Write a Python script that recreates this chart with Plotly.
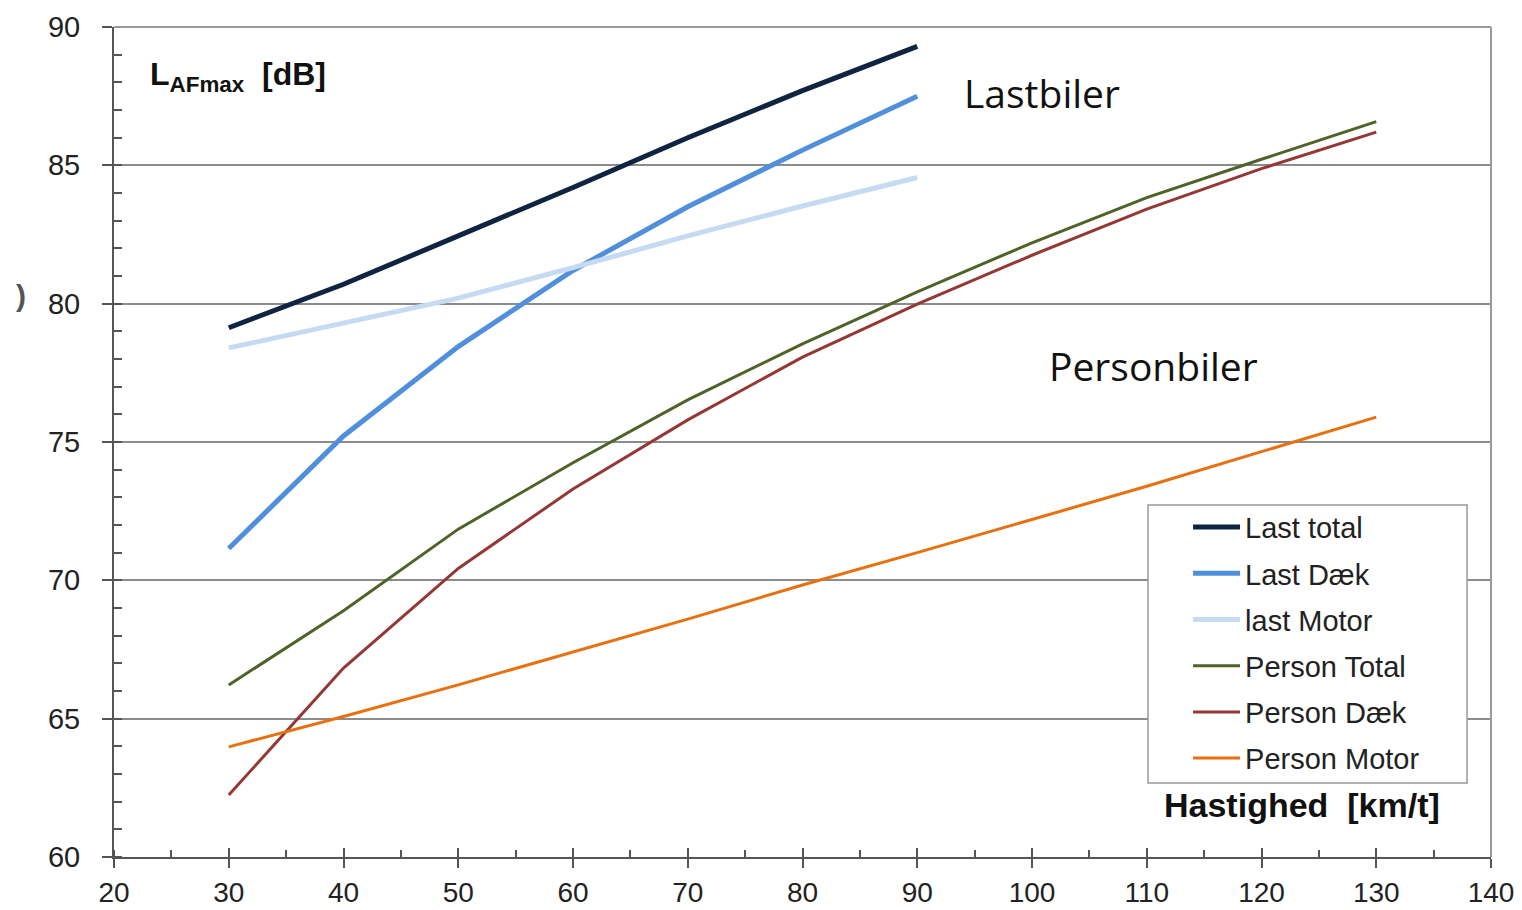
import plotly.graph_objects as go

speed_last = [30, 40, 50, 60, 70, 80, 90]
speed_person = [30, 40, 50, 60, 70, 80, 90, 100, 110, 120, 130]

last_total = [79.13, 80.7, 82.45, 84.2, 86.0, 87.7, 89.3]
last_daek = [71.15, 75.22, 78.45, 81.2, 83.5, 85.55, 87.5]
last_motor = [78.4, 79.3, 80.2, 81.3, 82.45, 83.53, 84.56]

person_total = [66.22, 68.9, 71.85, 74.25, 76.52, 78.55, 80.43, 82.2, 83.83, 85.22, 86.58]
person_daek = [62.24, 66.83, 70.43, 73.3, 75.8, 78.07, 79.98, 81.75, 83.42, 84.88, 86.2]
person_motor = [63.98, 65.08, 66.22, 67.4, 68.6, 69.83, 71.0, 72.2, 73.4, 74.65, 75.9]

series = [
    ("Last total", speed_last, last_total, "#0f2441", 5),
    ("Last Dæk", speed_last, last_daek, "#4f8fdb", 5),
    ("last Motor", speed_last, last_motor, "#c6daf2", 5),
    ("Person Total", speed_person, person_total, "#4f6228", 3),
    ("Person Dæk", speed_person, person_daek, "#953735", 3),
    ("Person Motor", speed_person, person_motor, "#e9700f", 3),
]

fig = go.Figure()
for i, (name, xs, ys, color, w) in enumerate(series):
    fig.add_trace(go.Scatter(x=xs, y=ys, mode="lines", name=name,
                             line=dict(color=color, width=w),
                             legendgroup=f"g{i}"))

# overlay axis to get the inside part of the major x ticks (cross-style ticks)
fig.add_trace(go.Scatter(x=[20, 140], y=[60, 60], mode="lines", xaxis="x2",
                         line=dict(width=0), showlegend=False, hoverinfo="skip"))

fig.update_layout(
    width=1514, height=902,
    margin=dict(l=106, r=31, t=19, b=53, autoexpand=False),
    paper_bgcolor="white", plot_bgcolor="white",
    font=dict(family="Liberation Sans, Arial, sans-serif", size=29, color="#222"),
    xaxis=dict(range=[20, 140], dtick=10, tick0=20, showgrid=False, automargin=False,
               showline=True, linecolor="#555", linewidth=2,
               ticks="outside", ticklen=9, tickwidth=1.5, tickcolor="#555",
               minor=dict(dtick=5, ticks="inside", ticklen=7, tickwidth=1.5, tickcolor="#555"),
               tickfont=dict(size=28, color="#222"), zeroline=False,
               ticklabelstandoff=0),
    xaxis2=dict(range=[20, 140], dtick=10, tick0=20, overlaying="x", side="bottom",
                automargin=False,
                showgrid=False, showline=False, ticks="inside", ticklen=9, tickwidth=1.5,
                tickcolor="#555", showticklabels=False, zeroline=False),
    yaxis=dict(range=[60, 90], dtick=5, tick0=60, showgrid=True, gridcolor="#8c8c8c",
               automargin=False,
               gridwidth=1.5, showline=True, linecolor="#555", linewidth=2,
               ticks="outside", ticklen=10, tickwidth=1.5, tickcolor="#555",
               minor=dict(dtick=1, ticks="inside", ticklen=8, tickwidth=1.5, tickcolor="#555",
                          showgrid=False),
               tickfont=dict(size=29, color="#222"), zeroline=False,
               ticklabelstandoff=16),
    legend=dict(x=0.780, y=0.428, xanchor="left", yanchor="top",
                bgcolor="rgba(0,0,0,0)", borderwidth=0,
                font=dict(size=29, color="#222"), tracegroupgap=5.5,
                itemwidth=47),
    showlegend=True,
)

# legend frame (opaque white box)
fig.add_shape(type="rect", xref="paper", yref="paper", x0=0.7509, x1=0.9826,
              y0=0.0892, y1=0.4241, line=dict(color="#999", width=1.5),
              fillcolor="white", layer="above")

# top and right frame lines
fig.add_shape(type="line", xref="paper", yref="paper", x0=1, x1=1, y0=0, y1=1,
              line=dict(color="#999", width=2))
fig.add_shape(type="line", xref="paper", yref="paper", x0=0, x1=1, y0=1, y1=1,
              line=dict(color="#999", width=2))

fig.add_annotation(x=0.0247, y=0.9398, xref="paper", yref="paper", xanchor="left", yanchor="middle",
                   text="<b>L<sub>AFmax</sub>  [dB]</b>", showarrow=False,
                   font=dict(size=32, color="#111"))
fig.add_annotation(x=0.9644, y=0.0627, xref="paper", yref="paper", xanchor="right", yanchor="middle",
                   text="<b>Hastighed  [km/t]</b>", showarrow=False,
                   font=dict(size=34, color="#111"))
fig.add_annotation(x=0.6158, y=0.9205, xref="paper", yref="paper", xanchor="left", yanchor="middle",
                   text="Lastbiler", showarrow=False,
                   font=dict(family="Open Sans, sans-serif", size=39, color="#111"))
fig.add_annotation(x=0.6776, y=0.5916, xref="paper", yref="paper", xanchor="left", yanchor="middle",
                   text="Personbiler", showarrow=False,
                   font=dict(family="Open Sans, sans-serif", size=39, color="#111"))
fig.add_annotation(x=-0.0675, y=0.677, xref="paper", yref="paper", xanchor="center", yanchor="middle",
                   text="<b>)</b>", showarrow=False,
                   font=dict(size=30, color="#555"))

fig.write_html("out.html")
